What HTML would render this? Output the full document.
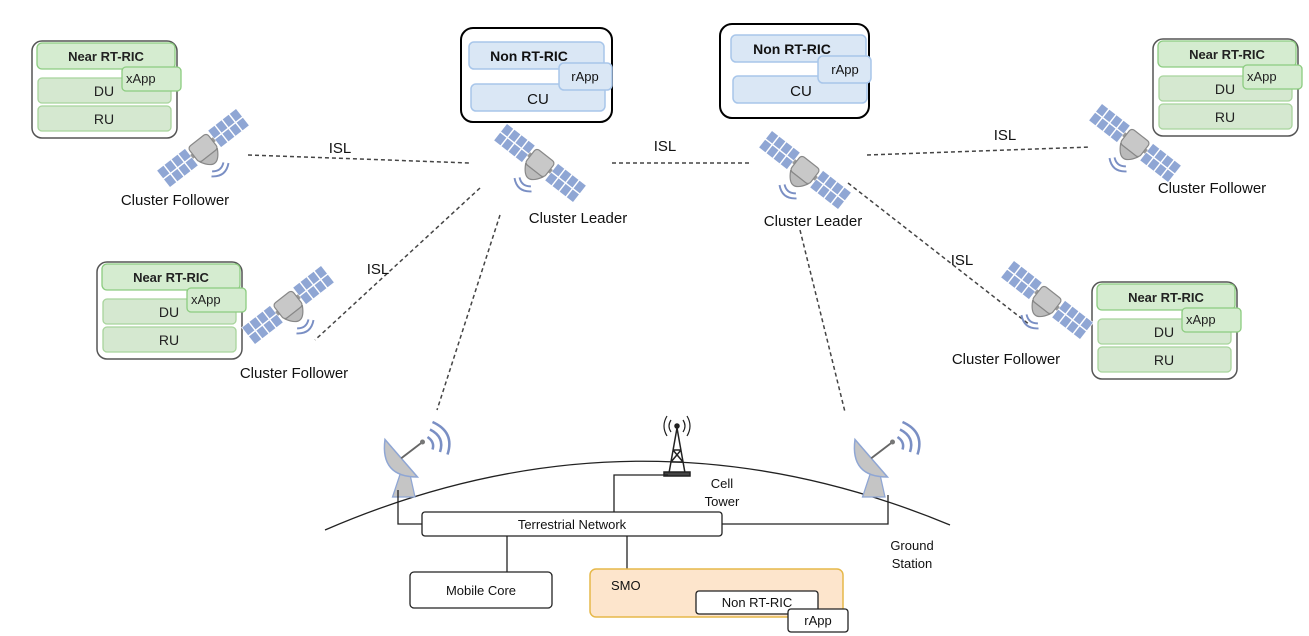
<!DOCTYPE html>
<html><head><meta charset="utf-8"><style>
html,body{margin:0;padding:0;background:#fff;}
svg{display:block;font-family:"Liberation Sans",Arial,sans-serif;}
</style></head><body>
<svg width="1309" height="636" viewBox="0 0 1309 636" xmlns="http://www.w3.org/2000/svg">
<defs>
<g id="panel">
 <rect x="0" y="-9" width="30" height="18" fill="#8fa6d4" stroke="#fff" stroke-width="0.6"/>
 <path d="M7.5,-9V9M15,-9V9M22.5,-9V9M0,0H30" stroke="#fff" stroke-width="1.2"/>
</g>
<g id="sat">
 <use href="#panel" x="-42" y="0"/>
 <use href="#panel" x="12" y="0"/>
 <rect x="-12" y="-2" width="24" height="4" fill="#999"/>
 <rect x="-10" y="-8" width="20" height="16" rx="3" fill="#c8c8c8" stroke="#888" stroke-width="1"/>
 <path d="M-9,8 q9,16 18,0 z" fill="#bbb" stroke="#888" stroke-width="1"/>
 <path d="M-6,20 q6,5 12,0 M-9,23 q9,8 18,0" fill="none" stroke="#7a8fc4" stroke-width="1.6"/>
</g>
<g id="dish">
 <path d="M-8,10 L-14,28 L4,28 L0,10 z" fill="#c5c5c5" stroke="#8fa6d4" stroke-width="1"/>
 <path d="M-20,-18 q-4,30 26,30 z" fill="#c5c5c5" stroke="#8fa6d4" stroke-width="1.2"/>
 <path d="M-7,-3 L10,-16" stroke="#666" stroke-width="1.5"/>
 <circle cx="10" cy="-16" r="2" fill="#777"/>
 <path d="M14,-20 q6,4 4,10 M16,-26 q12,6 8,18 M18,-32 q18,8 12,26" fill="none" stroke="#7a8fc4" stroke-width="2"/>
</g>
<g id="nearbox">
 <rect x="0" y="0" width="145" height="97" rx="10" fill="#fff" stroke="#555" stroke-width="1.5"/>
 <rect x="5" y="2" width="138" height="26" rx="5" fill="#d5ecd0" stroke="#8ccc80" stroke-width="1.3"/>
 <text x="74" y="20" font-size="13" font-weight="bold" text-anchor="middle" fill="#222">Near RT-RIC</text>
 <rect x="6" y="37" width="133" height="25" rx="4" fill="#d5e8d0" stroke="#a8d49c" stroke-width="1.3"/>
 <text x="72" y="55" font-size="14" text-anchor="middle" fill="#222">DU</text>
 <rect x="6" y="65" width="133" height="25" rx="4" fill="#d5e8d0" stroke="#a8d49c" stroke-width="1.3"/>
 <text x="72" y="83" font-size="14" text-anchor="middle" fill="#222">RU</text>
 <rect x="90" y="26" width="59" height="24" rx="4" fill="#d5ecd0" stroke="#8ccc80" stroke-width="1.3"/>
 <text x="94" y="42" font-size="13" fill="#222">xApp</text>
</g>
</defs>

<use href="#nearbox" x="32" y="41"/>
<use href="#nearbox" x="97" y="262"/>
<use href="#nearbox" x="1153" y="39"/>
<use href="#nearbox" x="1092" y="282"/>

<g>
 <rect x="461" y="28" width="151" height="94" rx="12" fill="#fff" stroke="#000" stroke-width="2"/>
 <rect x="469" y="42" width="135" height="27" rx="5" fill="#dae7f5" stroke="#a8c6ea" stroke-width="1.5"/>
 <text x="529" y="61" font-size="14" font-weight="bold" text-anchor="middle" fill="#111">Non RT-RIC</text>
 <rect x="471" y="84" width="134" height="27" rx="5" fill="#dae7f5" stroke="#a8c6ea" stroke-width="1.5"/>
 <text x="538" y="104" font-size="15" text-anchor="middle" fill="#111">CU</text>
 <rect x="559" y="63" width="53" height="27" rx="5" fill="#dae7f5" stroke="#a8c6ea" stroke-width="1.5"/>
 <text x="585" y="81" font-size="13" text-anchor="middle" fill="#111">rApp</text>
</g>
<g>
 <rect x="720" y="24" width="149" height="94" rx="12" fill="#fff" stroke="#000" stroke-width="2"/>
 <rect x="731" y="35" width="135" height="27" rx="5" fill="#dae7f5" stroke="#a8c6ea" stroke-width="1.5"/>
 <text x="792" y="54" font-size="14" font-weight="bold" text-anchor="middle" fill="#111">Non RT-RIC</text>
 <rect x="733" y="76" width="134" height="27" rx="5" fill="#dae7f5" stroke="#a8c6ea" stroke-width="1.5"/>
 <text x="801" y="96" font-size="15" text-anchor="middle" fill="#111">CU</text>
 <rect x="818" y="56" width="53" height="27" rx="5" fill="#dae7f5" stroke="#a8c6ea" stroke-width="1.5"/>
 <text x="845" y="74" font-size="13" text-anchor="middle" fill="#111">rApp</text>
</g>

<g stroke="#444" stroke-width="1.5" stroke-dasharray="4,3" fill="none">
 <line x1="248" y1="155" x2="470" y2="163"/>
 <line x1="612" y1="163" x2="750" y2="163"/>
 <line x1="867" y1="155" x2="1090" y2="147"/>
 <line x1="480" y1="188" x2="315" y2="340"/>
 <line x1="500" y1="215" x2="437" y2="410"/>
 <line x1="800" y1="230" x2="845" y2="412"/>
 <line x1="848" y1="183" x2="1030" y2="325"/>
</g>
<g font-size="15" fill="#111">
 <text x="340" y="153" text-anchor="middle">ISL</text>
 <text x="665" y="151" text-anchor="middle">ISL</text>
 <text x="1005" y="140" text-anchor="middle">ISL</text>
 <text x="378" y="274" text-anchor="middle">ISL</text>
 <text x="962" y="265" text-anchor="middle">ISL</text>
</g>

<use href="#sat" transform="translate(203,148) rotate(-38) scale(1.2)"/>
<use href="#sat" transform="translate(288,305) rotate(-38) scale(1.2)"/>
<use href="#sat" transform="translate(540,163) rotate(38) scale(1.2)"/>
<use href="#sat" transform="translate(805,170) rotate(38) scale(1.2)"/>
<use href="#sat" transform="translate(1135,143) rotate(38) scale(1.2)"/>
<use href="#sat" transform="translate(1047,300) rotate(38) scale(1.2)"/>

<g font-size="15" fill="#111" text-anchor="middle">
 <text x="175" y="205">Cluster Follower</text>
 <text x="294" y="378">Cluster Follower</text>
 <text x="1212" y="193">Cluster Follower</text>
 <text x="1006" y="364">Cluster Follower</text>
 <text x="578" y="223">Cluster Leader</text>
 <text x="813" y="226">Cluster Leader</text>
</g>

<path d="M325,530 Q637,395 950,525" fill="none" stroke="#222" stroke-width="1.3"/>
<use href="#dish" transform="translate(410,462) scale(1.25)"/>
<use href="#dish" transform="translate(880,462) scale(1.25)"/>
<g stroke="#222" fill="none" stroke-width="1.5">
 <path d="M677,428 L669,473 M677,428 L685,473 M673,450 L681,450 M671,462 L683,462 M673,450 L683,462 M681,450 L671,462"/>
 <rect x="664" y="472" width="26" height="4" fill="#444"/>
 <path d="M671,420 q-4,6 0,12 M683,420 q4,6 0,12 M667,416 q-6,10 0,20 M687,416 q6,10 0,20" stroke-width="1.2"/>
 <circle cx="677" cy="426" r="2" fill="#222"/>
</g>
<g stroke="#222" stroke-width="1.3" fill="none">
 <path d="M398,490 V524 H422"/>
 <path d="M722,524 H888 V495"/>
 <path d="M614,512 V475 H668"/>
 <path d="M507,536 V572"/>
 <path d="M627,536 V569"/>
</g>
<rect x="422" y="512" width="300" height="24" rx="3" fill="#fff" stroke="#222" stroke-width="1.3"/>
<text x="572" y="529" font-size="13" text-anchor="middle" fill="#111">Terrestrial Network</text>
<rect x="410" y="572" width="142" height="36" rx="4" fill="#fff" stroke="#222" stroke-width="1.3"/>
<text x="481" y="595" font-size="13" text-anchor="middle" fill="#111">Mobile Core</text>
<rect x="590" y="569" width="253" height="48" rx="6" fill="#fde5cc" stroke="#e6b84a" stroke-width="1.5"/>
<text x="611" y="590" font-size="13" fill="#111">SMO</text>
<rect x="696" y="591" width="122" height="23" rx="3" fill="#fff" stroke="#222" stroke-width="1.3"/>
<text x="757" y="607" font-size="13" text-anchor="middle" fill="#111">Non RT-RIC</text>
<rect x="788" y="609" width="60" height="23" rx="3" fill="#fff" stroke="#222" stroke-width="1.3"/>
<text x="818" y="625" font-size="13" text-anchor="middle" fill="#111">rApp</text>
<g font-size="13" fill="#111" text-anchor="middle">
 <text x="722" y="488">Cell</text>
 <text x="722" y="506">Tower</text>
 <text x="912" y="550">Ground</text>
 <text x="912" y="568">Station</text>
</g>
</svg>
</body></html>
